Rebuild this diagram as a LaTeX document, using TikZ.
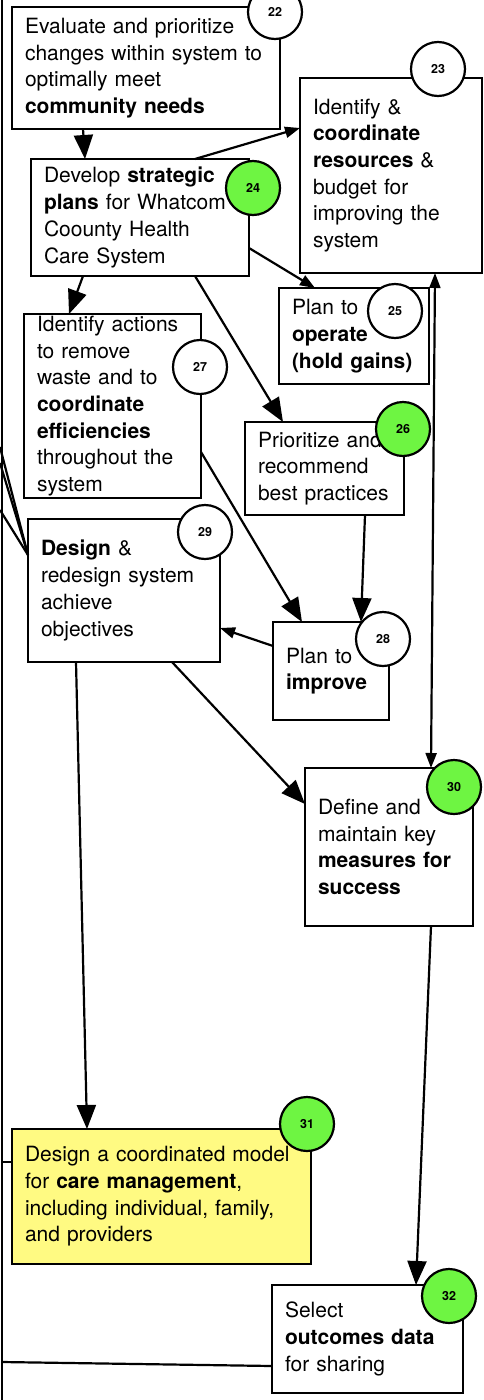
\documentclass[tikz,border=0pt]{standalone}
\usepackage{fontspec}
\setmainfont{TeX Gyre Heros}
\usetikzlibrary{arrows.meta}
\definecolor{stepgreen}{RGB}{110,245,66}
\definecolor{stepyellow}{RGB}{255,250,130}
\newcommand{\boxfont}{\fontsize{21}{26.7}\selectfont}
\newcommand{\numfont}{\fontsize{12.5}{12.5}\selectfont\bfseries}
\begin{document}
\begin{tikzpicture}[x=1pt, y=-1pt,
    stepbox/.style={draw, line width=2.2pt, fill=white, anchor=north west, align=left,
        inner xsep=13pt, inner ysep=0pt, outer sep=0pt, font=\boxfont},
    num/.style={draw, circle, line width=2.2pt, fill=white, minimum size=54pt,
        inner sep=0pt, font=\numfont},
    numg/.style={num, fill=stepgreen},
    link/.style={line width=2.2pt},
    big/.style={link, -{Triangle[length=24pt, width=19pt]}},
    small/.style={link, -{Triangle[length=15pt, width=11pt]}}]
    \useasboundingbox (0,0) rectangle (483,1400);

    % boxes
    \node[stepbox, minimum width=268pt, minimum height=122pt, text width=242pt] (b22) at (12,7)
        {Evaluate and prioritize\\changes within system to\\optimally meet\\\textbf{community needs}};
    \node[stepbox, minimum width=182pt, minimum height=195pt, text width=156pt] (b23) at (300,78)
        {Identify \&\\\textbf{coordinate}\\\textbf{resources} \&\\budget for\\improving the\\system};
    \node[stepbox, minimum width=218pt, minimum height=117pt, text width=192pt] (b24) at (31,159)
        {Develop \textbf{strategic}\\\textbf{plans} for Whatcom\\Coounty Health\\Care System};
    \node[stepbox, minimum width=150pt, minimum height=96pt, text width=124pt] (b25) at (279,288)
        {Plan to\\\textbf{operate}\\\textbf{(hold gains)}};
    \node[stepbox, minimum width=177pt, minimum height=184pt, text width=151pt] (b27) at (24,314)
        {Identify actions\\to remove\\waste and to\\\textbf{coordinate}\\\textbf{efficiencies}\\throughout the\\system};
    \node[stepbox, minimum width=159pt, minimum height=93pt, text width=133pt] (b26) at (245,422)
        {Prioritize and\\recommend\\best practices};
    \node[stepbox, minimum width=192pt, minimum height=143pt, text width=166pt] (b29) at (28,519)
        {\textbf{Design} \&\\redesign system\\achieve\\objectives};
    \node[stepbox, minimum width=116pt, minimum height=98pt, text width=90pt] (b28) at (273,622)
        {Plan to\\\textbf{improve}};
    \node[stepbox, minimum width=168pt, minimum height=158pt, text width=142pt] (b30) at (305,768)
        {Define and\\maintain key\\\textbf{measures for}\\\textbf{success}};
    \node[stepbox, fill=stepyellow, minimum width=299pt, minimum height=135pt, text width=273pt] (b31) at (12,1129)
        {Design a coordinated model\\for \textbf{care management},\\including individual, family,\\and providers};
    \node[stepbox, minimum width=191pt, minimum height=108pt, text width=165pt] (b32) at (272,1285)
        {Select\\\textbf{outcomes data}\\for sharing};

    % left edge
    \coordinate (edgetop) at (2,0);
    \coordinate (edgebot) at (2,1400);
    \coordinate (inA) at (0,447);
    \coordinate (inB) at (0,463);
    \coordinate (inC) at (0,510);
    \draw[link] (edgetop) -- (edgebot);
    \draw[link] (inA) -- (b29.west |- 0,555);
    \draw[link] (inB) -- (b29.west |- 0,555);
    \draw[link] (inC) -- (b29.west |- 0,555);
    \draw[link] (2,1162) -- (b31.west |- 0,1162);
    \draw[link] (2,1362) -- (b32.west |- 0,1366);

    % arrows
    \draw[big] (83,0 |- b22.south) -- (85,0 |- b24.north);
    \draw[small] (195,0 |- b24.north) -- (b23.west |- 0,128);
    \draw[small] (b24.east |- 0,248) -- (315,0 |- b25.north);
    \draw[big] (83,0 |- b24.south) -- (69,0 |- b27.north);
    \draw[big] (195,0 |- b24.south) -- (283,0 |- b26.north);
    \draw[big] (b27.east |- 0,452) -- (302,0 |- b28.north);
    \draw[big] (365,0 |- b26.south) -- (361,0 |- b28.north);
    \draw[small] (b28.west |- 0,646) -- (b29.east |- 0,628);
    \draw[big] (172,0 |- b29.south) -- (b30.west |- 0,804);
    \draw[big] (76,0 |- b29.south) -- (87,0 |- b31.north);
    \draw[big] (431,0 |- b30.south) -- (416,0 |- b32.north);
    \draw[small, {Triangle[length=15pt, width=11pt]}-{Triangle[length=15pt, width=11pt]}]
        (431,0 |- b30.north) -- (435,0 |- b23.south);

    % numbers
    \node[num] (n22) at (275,12) {22};
    \node[num] (n23) at (438,69) {23};
    \node[numg] (n24) at (253,188) {24};
    \node[num] (n25) at (395,311) {25};
    \node[num] (n27) at (200,367) {27};
    \node[numg] (n26) at (403,429) {26};
    \node[num] (n29) at (205,532) {29};
    \node[num] (n28) at (383,639) {28};
    \node[numg] (n30) at (454,787) {30};
    \node[numg] (n31) at (307,1124) {31};
    \node[numg] (n32) at (449,1296) {32};
\end{tikzpicture}
\end{document}
